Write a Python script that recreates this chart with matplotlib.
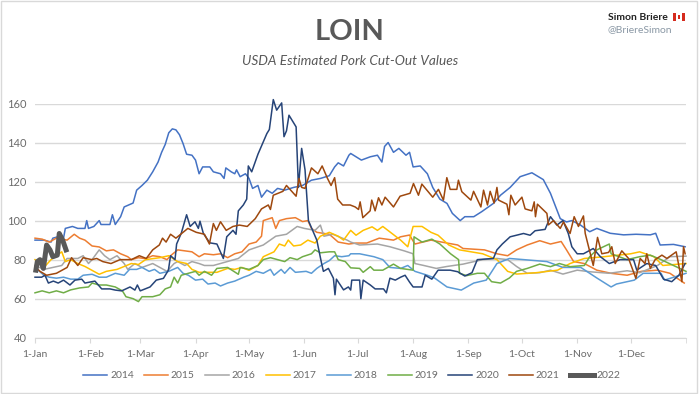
import matplotlib
matplotlib.use("Agg")
import matplotlib.pyplot as plt
from matplotlib.patches import Rectangle

plt.rcParams['font.family'] = ['Lato', 'DejaVu Sans']

month_days = [0, 31, 59, 90, 120, 151, 181, 212, 243, 273, 304, 334]
month_labels = ['1-Jan', '1-Feb', '1-Mar', '1-Apr', '1-May', '1-Jun', '1-Jul', '1-Aug', '1-Sep', '1-Oct', '1-Nov', '1-Dec']
y_ticks = [40, 60, 80, 100, 120, 140, 160]

days_2014 = [0, 5, 9, 10, 14, 16, 17, 21, 24, 28, 29, 30, 33, 36, 37, 40, 42, 43.4, 45, 48, 50, 55, 57, 60, 63, 66, 69, 71, 73, 75, 77, 79, 81, 83, 85, 88, 90, 92, 94, 98, 100, 104, 106, 107, 110, 112, 113, 115, 118, 120, 122, 125, 127, 130, 133, 136, 140, 145, 150, 155, 160, 165, 168, 170, 173, 176,
             177, 180, 183, 188, 192, 194.5, 196, 198, 201, 204, 208, 210, 212, 216, 220, 223, 227, 231, 234, 238.4, 241, 246, 250.5, 257, 261, 266.4, 272, 278.6, 285, 289, 294.5, 298, 301, 305.7, 311, 315, 322.5, 330, 337, 345, 348, 350.5, 358, 364.5]
values_2014 = [90, 90, 89, 91, 92, 91, 96, 97, 96, 96, 100, 96, 97, 100, 98, 98, 98, 103, 98, 102, 107, 109, 115.6, 118, 120.7, 125, 130, 135, 139, 145, 147, 146.5, 144, 139.5, 134, 133.5, 131, 124, 127.5, 127.5, 125, 124, 121.6, 127, 125, 124, 126, 122.5, 124, 121.6, 116.5, 118, 112, 115.6, 114, 116.5, 115.6, 117, 118, 120.7, 121.6, 123, 127.5, 129.6, 128, 133.5,
               134.4, 132.7, 131, 132.7, 133.5, 130, 138, 140, 135, 137, 133.5, 135, 127.5, 128, 124, 117, 111, 108.8, 103.7, 100, 102, 102, 104.6, 108.8, 113, 117, 122.5, 124.5, 121, 114, 101, 99.3, 100, 97.8, 94.3, 96, 93.5, 92.7, 93, 92.7, 93.5, 87.5, 87.8, 86.6]

days_2015 = [0, 4, 8, 12, 18, 22, 25, 28, 32, 36, 40, 44, 48, 52, 54, 58, 62, 66, 70, 74, 76, 80, 84, 88, 92, 95, 100, 104, 108, 112, 116, 120, 124, 127, 128, 133, 135, 137, 141, 146, 150, 153, 155, 158, 165, 170, 176,
             180, 186, 193, 197, 201, 205, 210, 213, 222, 228, 237, 240, 252, 259, 265, 270, 276, 283, 289, 295, 298, 302, 308, 315, 323, 332, 340, 349, 356, 364]
values_2015 = [91, 90.5, 89, 91, 90, 93, 91, 90, 87, 86.5, 84.5, 85, 83, 81.5, 80, 81, 80.5, 82, 81.5, 80, 82, 85, 84.5, 84, 81.5, 83, 82.5, 83, 81, 83, 84, 88, 89, 92, 100, 101.5, 96, 100, 101, 101.5, 99.5, 100, 96, 94, 93, 89, 88,
               88.5, 88.5, 91, 90.5, 90, 91.7, 92.6, 88, 90, 89, 87.5, 85.7, 85, 83, 82, 85, 87.5, 89.7, 88, 89.3, 85, 79, 78, 74.6, 73, 72, 74, 74.6, 73, 68]

days_2016 = [0, 5, 10, 15, 18, 24, 27, 30, 32, 36, 39, 42, 46, 48, 50, 52, 56, 60, 63, 66, 70, 74, 78, 80, 84, 88, 92, 95, 100, 114, 120, 128, 135, 141, 147, 151, 157, 160, 162, 167, 175,
             177, 182, 192, 199, 207, 212, 213, 218, 225, 231, 240, 251, 259, 265, 270, 276, 283, 289, 296, 304, 311, 322, 332, 339, 349, 356, 365]
values_2016 = [77, 75, 76, 77, 80.6, 80.6, 82, 78, 80, 85, 82, 80, 82, 80, 78, 75, 78, 76, 77, 78, 76, 74, 78, 79, 77, 79, 78, 77, 77, 80.6, 85, 87.5, 92, 93, 97, 96, 95, 97.7, 92, 93, 90,
               89, 87.5, 88, 86.6, 84.5, 83, 78, 77, 75.5, 76.5, 77.7, 80, 80.6, 80, 76.5, 73, 73.3, 74.6, 72.6, 74.6, 73.8, 73, 74.3, 73.3, 77, 81.5, 81.8]

days_2017 = [0, 5, 9, 12, 15, 17, 20, 24, 28, 32, 36, 40, 46, 50, 54, 58, 62, 66, 70, 75, 80, 85, 88, 92, 97, 102, 108, 112, 116, 120, 125, 128, 134, 137, 140, 142, 145, 149, 153, 157, 160, 165, 170, 173,
             177, 180, 184, 189, 192, 195, 200, 205, 209, 212, 217, 222, 226, 232, 238, 251, 259, 265, 270, 281, 293, 300, 308, 319, 334, 339, 347, 352, 365]
values_2017 = [80, 76, 80, 82, 84, 79, 80, 78, 76.5, 74.5, 72.5, 74, 75, 76.5, 78, 77.5, 80, 80.5, 81, 82, 79, 78, 75, 73.5, 73.5, 73.5, 75.5, 75, 76, 74.5, 77, 81.5, 84, 88, 87, 90, 87, 87.5, 90, 88.5, 92, 94, 92, 90,
               95, 92.5, 95, 96.8, 95, 97, 93.5, 90, 86.6, 97, 97, 94, 92.5, 87.5, 85, 83, 80, 74, 72.6, 73.3, 74.6, 78, 80.6, 81.5, 83, 84, 81.5, 77, 78]

days_2018 = [0, 5, 8, 12, 16, 20, 24, 27, 32, 36, 40, 45, 50, 53, 57, 60, 64, 67, 70, 75, 80, 83, 86, 90, 94, 97, 101, 104, 108, 112, 117, 120, 124, 128, 132, 134, 138, 140, 143, 146, 152, 155, 158, 162, 165, 168, 172, 176,
             177, 182, 190, 195, 199, 205, 209, 213, 220, 224, 231, 239, 246, 253, 259, 266, 274, 287, 296, 306, 315, 323, 326, 336, 341, 351, 353, 365]
values_2018 = [76, 72, 71, 70.5, 71, 70, 70, 72, 72.5, 71, 71, 73, 72, 75, 75, 76, 74, 75, 73, 74, 76, 73, 72, 69.5, 70, 67.5, 68, 66.5, 68, 69, 71, 72, 74, 73, 75, 72, 75, 73, 76, 73.5, 74, 73, 75.5, 78, 79.5, 82, 81.5, 82,
               83, 83, 81.5, 80, 76, 75.5, 77, 74, 72, 70.6, 66, 64.4, 68, 69.5, 78, 80.6, 80, 79, 76, 76, 70.6, 66, 67.5, 69.5, 73, 73, 69.5, 73]

days_2019 = [0, 4, 8, 12, 16, 20, 25, 30, 32, 36, 40, 45, 49, 51, 55, 58, 60, 66, 70, 73, 76, 78, 80, 82, 86, 90, 92, 95, 99, 102, 108, 114, 115, 120, 125, 128, 132, 136, 140, 143, 147, 150, 155, 157, 160, 165, 168, 170, 174,
             177, 182, 184, 188, 190, 195, 201, 205, 212, 212.5, 217, 222.5, 227, 233, 237.5, 238, 242, 248, 252, 256, 261, 266, 270, 276, 283, 289, 294, 300, 308, 311, 315, 322, 323, 332, 339, 345, 351, 358, 365]
values_2019 = [63, 64, 63, 64, 63, 64.5, 65.5, 66, 68, 67, 67, 66, 64, 61, 60, 58.5, 61, 61, 62, 65, 66, 71, 68, 72, 73, 74, 72, 74, 72, 75.5, 76, 72.5, 76, 75, 77, 80, 81, 80, 79, 81, 80, 81.5, 83, 85, 83.5, 84, 84, 80, 79,
               75.8, 75.5, 73.5, 76.4, 74.6, 74.6, 77.7, 75.5, 74.6, 91.7, 89, 90.5, 88, 83, 80, 73, 71.8, 73, 73, 68.7, 68, 70.6, 74, 75.5, 77.7, 76.4, 78, 76.4, 77, 81.5, 85, 88, 83, 80, 81.5, 82.3, 80, 77, 74]

days_2020 = [0, 3.7, 5.6, 7.5, 10.3, 13, 16, 19.6, 22.4, 26.2, 28, 33.6, 37.4, 42, 45, 48.6, 53.3, 56, 57.4, 59, 64.5, 68, 72, 74.8, 76, 78.5, 79.4, 82, 85, 87, 89.7, 91.6, 92.5, 94.4, 98, 102, 105.6, 107.5, 111, 112.7, 114, 116.8, 118.7, 119.6, 121.5, 125, 130, 131.4, 133.6, 135.5, 138.3, 139.6, 141, 142.4, 146.4, 147.7, 149.5, 151.4, 153.3, 158, 160.7, 161.7, 164.5, 167.3, 168.2, 169, 173, 175.7,
             177, 177.6, 182, 182.7, 184, 188, 190.7, 195.4, 197, 199, 202, 205, 207.5, 210, 212, 217, 218.8, 222.5, 226, 232.8, 237, 241, 245, 248, 257, 259, 262, 266.4, 273.9, 277.6, 280.4, 286, 289, 292.6, 296, 299, 301, 304, 307.5, 313, 317, 322, 328, 335.6, 337.4, 343, 348, 352.4, 357, 361, 364.5]
values_2020 = [71, 71, 72, 68, 69, 68, 69.5, 67, 69.5, 70, 68, 69, 65, 65, 64.4, 64, 66, 64.4, 67, 64, 66, 69.5, 70.4, 74.6, 82, 80, 88, 93.5, 103, 97, 99.4, 96, 99.7, 93.4, 88.6, 88, 80.6, 91.7, 95, 93, 105, 108, 111, 128, 125, 134, 144.6, 146.7, 162, 156.6, 160.3, 143, 146, 154, 148, 117, 137, 126, 100, 90, 78, 74, 75.5, 70.5, 62, 70, 64.5, 66,
               64.4, 69.5, 69.5, 60, 69.5, 67, 65, 65, 63, 70.5, 69.5, 71, 72, 68.5, 66, 66, 72, 70, 74.6, 74.6, 73.8, 71.6, 73.3, 80, 80.6, 85, 88, 91.7, 93.4, 92.5, 94.8, 95.5, 102, 97.7, 100, 93.4, 86.6, 83, 83, 85.7, 81.5, 78, 80, 80, 74.6, 78, 77, 70, 68.7, 72, 78]

days_2021 = [0, 2.8, 6.5, 12, 18, 20.5, 24, 27, 31.8, 34.6, 38, 42.6, 47.7, 54, 58.5, 62.4, 66, 69.7, 71.5, 73.5, 76, 79, 83, 85.7, 90.4, 95, 97.8, 100, 101.7, 104, 107.2, 111, 114.6, 119, 123.5, 127, 130.8, 132, 133.6, 139, 141, 146.4, 148, 149.5, 151.4, 155, 158.6, 161, 164, 166, 168, 169.7, 172.5,
             176.7, 179.5, 181.4, 182.3, 183.8, 187.9, 188.8, 190.7, 192.6, 194.5, 196.3, 201, 204.7, 210.3, 212.2, 215, 216.9, 219.7, 223, 226.2, 229, 230.9, 232.8, 236.5, 237.4, 239.3, 244.4, 245.9, 250, 251.5, 253.7, 255.2, 257.4, 259, 259.9, 264.6, 265.7, 266.8, 269.2, 273, 274.8, 278.6, 279.9, 280.6, 281.7, 287, 287.9, 290.7, 294.5, 296.3, 300, 302.3, 304.7, 307.5, 308.5, 313, 315.4, 317.8, 321.6, 323.4, 325.3, 329, 332.8, 336.9, 339.3, 342, 343, 345, 347.7, 351.5, 354.3, 359.5, 362.7, 363.6, 364.5]
values_2021 = [76.4, 74, 72, 73, 76, 81, 77, 81, 80, 80.6, 79, 78, 80, 80, 82, 80.6, 85, 87.5, 91, 89, 93, 91, 94, 96, 94, 93, 88, 98.5, 95, 99.4, 95, 97, 97.7, 97, 101, 106, 108, 105.7, 113, 115, 118, 112.5, 121.6, 117, 116.5, 127, 124, 128, 121.6, 118, 122, 111, 108,
               108, 107, 105.7, 109.6, 101.5, 105, 110.5, 105, 111.7, 108, 112, 107, 112.5, 114, 119, 113, 118.7, 115.6, 112, 116, 110.5, 122, 116, 116, 120.7, 114.8, 110.5, 115, 107, 115.6, 108, 115, 109, 117, 110.5, 108.4, 103, 113, 108, 112, 106, 105, 109.6, 102, 108.4, 103.7, 97.8, 100, 96, 99.3, 93.4, 102, 97, 102.4, 93.4, 77, 91.4, 83, 83.7, 86.6, 78, 84.5, 80.6, 70.4, 80.6, 78, 83, 75.5, 80, 82.3, 80.6, 84, 68.7, 86.6, 83]

days_2022 = [0.5, 1.3, 2.8, 4.7, 6.5, 8.4, 10, 12.5, 13.6, 15.5, 17.4]
values_2022 = [74.6, 79, 80, 75.5, 87.5, 85, 81.5, 82.3, 93.4, 90, 85]

series = [
    ('2014', days_2014, values_2014, '#4472C4', 1.1),
    ('2015', days_2015, values_2015, '#ED7D31', 1.1),
    ('2016', days_2016, values_2016, '#A5A5A5', 1.1),
    ('2017', days_2017, values_2017, '#FFC000', 1.1),
    ('2018', days_2018, values_2018, '#5B9BD5', 1.1),
    ('2019', days_2019, values_2019, '#70AD47', 1.1),
    ('2020', days_2020, values_2020, '#264478', 1.1),
    ('2021', days_2021, values_2021, '#9E480E', 1.1),
    ('2022', days_2022, values_2022, '#595959', 3.6),
]

W, H = 700, 394
fig = plt.figure(figsize=(7.0, 3.94), dpi=100)
ax = fig.add_axes([35 / W, 1 - 337.7 / H, 651 / W, 234.2 / H])

for name, x, y, color, lw in series:
    ax.plot(x, y, color=color, lw=lw, label=name, clip_on=False, solid_joinstyle='round')

ax.set_xlim(0, 365)
ax.set_ylim(40, 160)
ax.set_yticks(y_ticks)
ax.set_xticks(month_days)
ax.set_xticklabels(month_labels)
ax.set_xticks([365], minor=True)
ax.grid(axis='y', color='#D9D9D9', lw=1.0)
ax.set_axisbelow(True)
for s in ['top', 'right', 'left']:
    ax.spines[s].set_visible(False)
ax.spines['bottom'].set_color('#D9D9D9')
ax.tick_params(axis='y', length=0, labelsize=8, labelcolor='#6b6b6b', pad=6)
ax.tick_params(axis='x', which='both', length=3.5, color='#D9D9D9', labelsize=7.5, labelcolor='#6b6b6b', pad=5)

fig.legend(loc='center', bbox_to_anchor=(352 / W, 1 - 375.6 / H), ncol=9, frameon=False,
           fontsize=7.5, labelcolor='#6b6b6b', handlelength=2.3, handletextpad=0.25,
           columnspacing=1.0, borderpad=0)

fig.text(350 / W, 1 - 31.5 / H, 'LOIN', fontsize=21, fontweight='bold', color='#595959', ha='center', va='center')
fig.text(350 / W, 1 - 61 / H, 'USDA Estimated Pork Cut-Out Values', fontsize=9.8, fontstyle='italic', color='#595959', ha='center', va='center')
fig.text(608 / W, 1 - 17 / H, 'Simon Briere', fontsize=7.5, fontweight='bold', color='#222222', ha='left', va='center')
fig.text(608 / W, 1 - 30 / H, '@BriereSimon', fontsize=7.5, color='#8A98A5', ha='left', va='center')

# little canadian flag next to the name
fig.add_artist(Rectangle((673 / W, 1 - 21 / H), 12 / W, 8 / H, transform=fig.transFigure, color='#FFFFFF', lw=0))
fig.add_artist(Rectangle((673 / W, 1 - 21 / H), 3 / W, 8 / H, transform=fig.transFigure, color='#D52B1E', lw=0))
fig.add_artist(Rectangle((682 / W, 1 - 21 / H), 3 / W, 8 / H, transform=fig.transFigure, color='#D52B1E', lw=0))
fig.add_artist(Rectangle((678 / W, 1 - 19 / H), 2 / W, 4 / H, transform=fig.transFigure, color='#D52B1E', lw=0))

# thin frame round the whole picture
fig.add_artist(Rectangle((0.5 / W, 1.5 / H), 696.5 / W, 391.5 / H, transform=fig.transFigure, fill=False, edgecolor='#D9D9D9', lw=1.0))

fig.savefig('out.png', dpi=100)
